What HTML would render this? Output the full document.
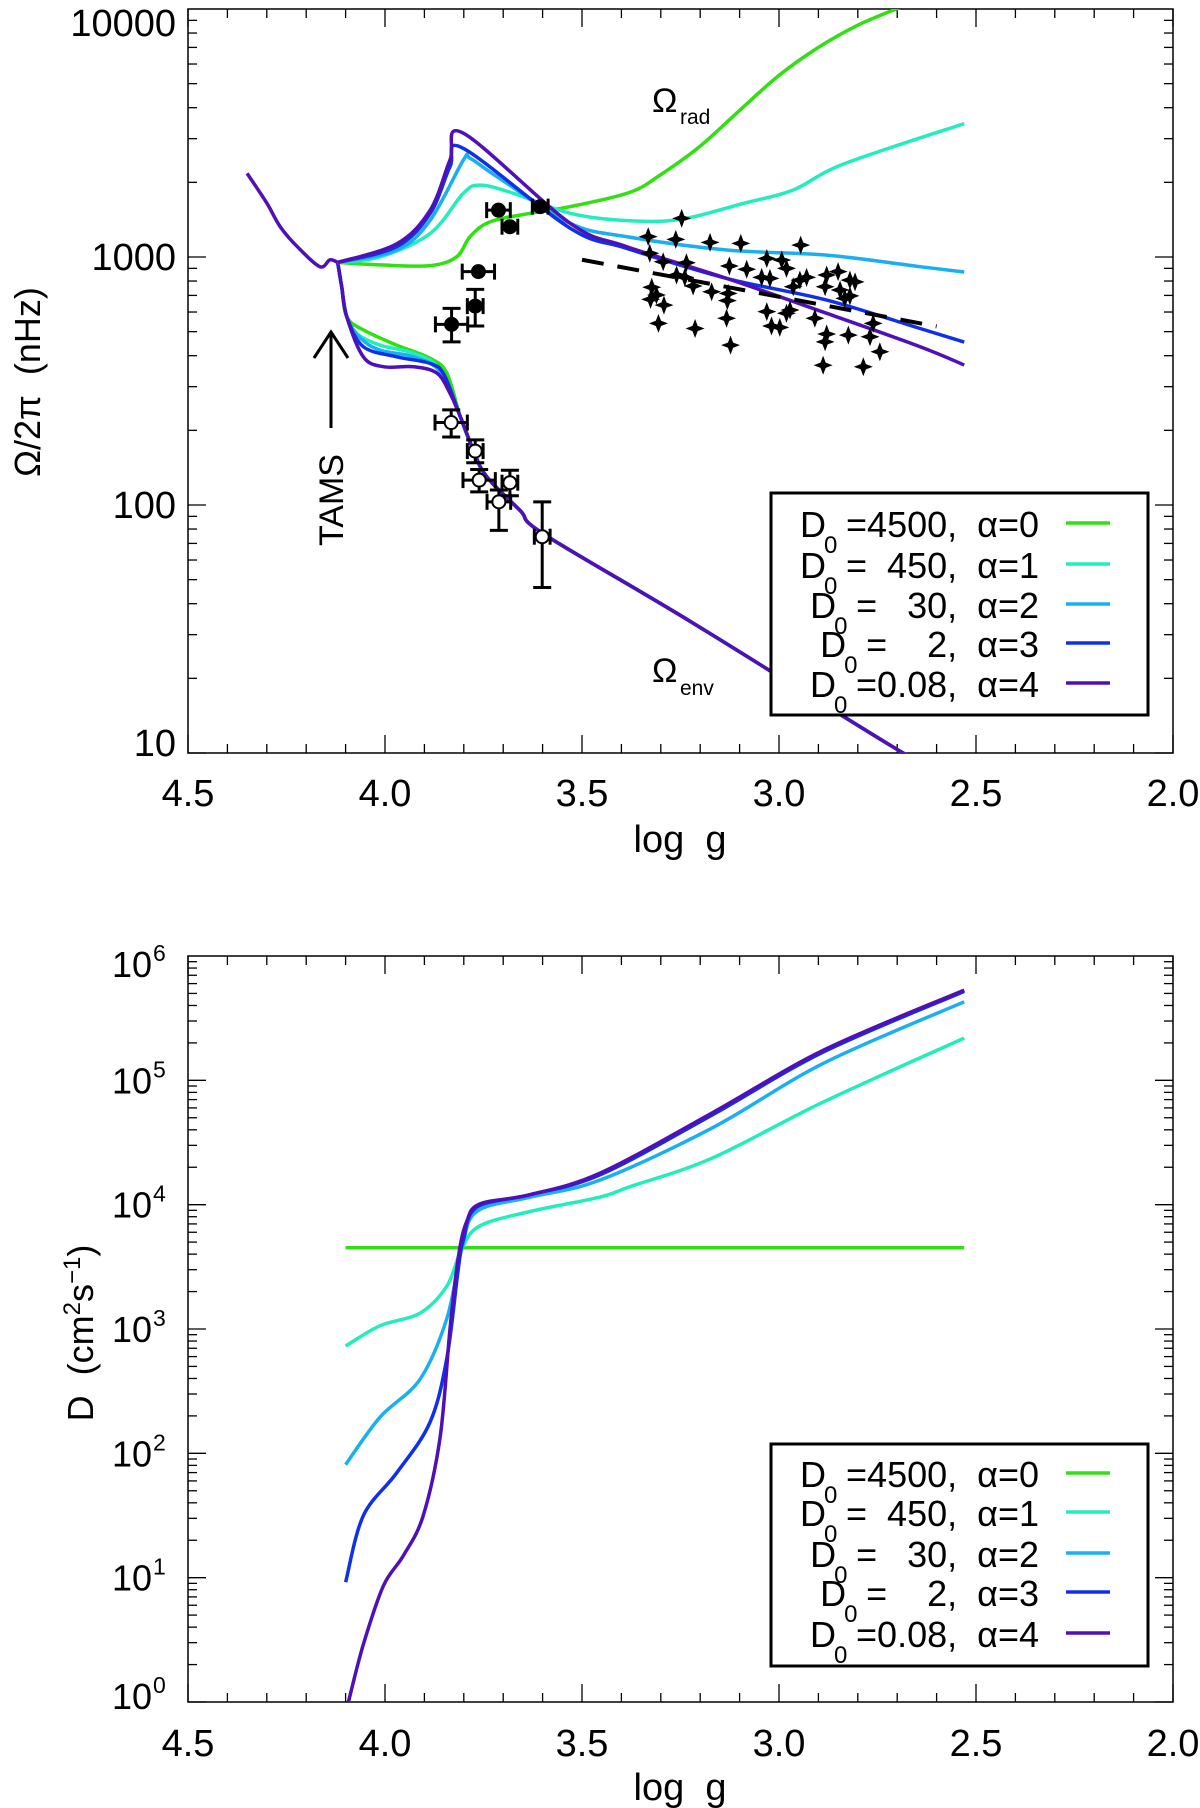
<!DOCTYPE html>
<html><head><meta charset="utf-8"><style>
html,body{margin:0;padding:0;background:#fff}
svg{display:block}
text{font-family:"Liberation Sans",sans-serif;fill:#000}
</style></head><body>
<svg id="fig" width="1200" height="1808" viewBox="0 0 1200 1808">
<defs>
<clipPath id="clipTop"><rect x="188" y="9" width="985" height="744"/></clipPath>
<clipPath id="clipBot"><rect x="188" y="956" width="985" height="746"/></clipPath>
</defs>
<g id="topPanel"></g>
<g id="botPanel"></g>
</svg>
<script>
const colors = ['#30e010','#22eebb','#1ab0f0','#1030e8','#5010b8'];
const seriesNames = ['alpha0','alpha1','alpha2','alpha3','alpha4'];
const legendD0 = ['4500','  450','   30','    2','0.08'];
const legendAlpha = ['0','1','2','3','4'];

const commonG = [4.35,4.30,4.266,4.22,4.165,4.14,4.12];
const commonV = [2173,1650,1325,1090,914,973,951];

const radG0 = [4.12,4.01,3.885,3.818,3.784,3.733,3.632,3.53,3.38,3.3,3.2,3.1,3.0,2.9,2.8,2.69];
const radV0 = [951,929,923,1002,1208,1387,1500,1596,1820,2150,2800,3900,5400,7000,8600,10200];
const radG1 = [4.12,4.012,3.885,3.801,3.758,3.674,3.53,3.38,3.247,3.091,2.964,2.836,2.53];
const radV1 = [951,1002,1245,1807,1950,1807,1500,1400,1420,1644,1862,2372,3450];
const radG2 = [4.12,3.97,3.885,3.801,3.784,3.716,3.53,3.387,3.133,2.879,2.642,2.53];
const radV2 = [951,1067,1409,2460,2500,2110,1368,1208,1067,1018,914,870];
const radG3 = [4.12,3.97,3.885,3.835,3.801,3.53,3.387,3.133,2.879,2.642,2.53];
const radV3 = [951,1101,1500,2312,2741,1306,1084,820,670,515,454];
const radG4 = [4.12,3.97,3.885,3.835,3.801,3.53,3.387,3.133,2.879,2.642,2.53];
const radV4 = [951,1130,1549,2460,3155,1368,1101,820,593,435,367];

const envHeadG = [4.12,4.11,4.097];
const envHeadV = [951,759,574];
const envG0 = [4.055,3.97,3.885,3.843]; const envV0 = [508,441,390,340];
const envG1 = [4.072,4.012,3.928,3.86]; const envV1 = [492,441,409,352];
const envG2 = [4.062,4.012,3.928,3.86]; const envV2 = [470,421,396,345];
const envG3 = [4.055,3.97,3.885,3.85];  const envV3 = [435,396,372,335];
const envG4 = [4.055,4.004,3.928,3.868,3.835]; const envV4 = [396,361,361,340,282];
const envTailG = [3.809,3.775,3.742,3.657,3.595,3.226,2.685,2.6];
const envTailV = [227,165,130,95,76,34,10,8.8];

const coreG = [3.712,3.683,3.763,3.771,3.831,3.606];
const coreV = [1545,1325,873,634,535,1596];
const coreGerr = [0.03,0.02,0.041,0.02,0.041,0.02];
const coreVlo = [1545,1325,873,527,455,1596];
const coreVhi = [1545,1325,873,740,621,1596];
const envPtG = [3.832,3.771,3.761,3.683,3.711,3.601];
const envPtV = [215,165,126,123,103,74.5];
const envPtGerr = [0.041,0.02,0.041,0.02,0.03,0.02];
const envPtVlo = [188,148,113,109,79,46.5];
const envPtVhi = [242,183,139,138,115,103];

const starG = [3.247,3.332,3.262,3.175,3.097,2.945,3.328,3.294,3.235,3.031,2.993,2.981,3.126,3.082,3.260,3.239,3.218,3.171,3.323,3.311,3.326,3.292,3.129,3.131,3.044,3.023,2.947,2.930,2.879,2.850,2.883,2.845,2.820,2.807,2.833,2.820,2.964,3.133,3.031,2.981,2.972,2.909,3.306,3.213,3.019,2.998,2.879,2.883,2.824,2.769,2.761,3.123,2.744,2.888,2.786];
const starV = [1432,1208,1178,1145,1135,1117,1035,957,948,986,972,900,920,892,846,828,764,724,755,703,675,640,713,667,828,820,807,828,846,873,759,736,807,794,681,697,759,566,602,593,611,566,540,515,527,520,489,455,484,477,540,441,415,366,361];
const dashG = [3.50,2.60];
const dashV = [975,525];

const dG0 = [4.10,2.53]; const dV0 = [4500,4500];
const dG1 = [4.10,4.013,3.911,3.843,3.805,3.759,3.632,3.454,3.378,3.17,2.886,2.53];
const dV1 = [728,1062,1343,2213,4426,6761,8810,11508,13964,23660,67300,218800];
const dG2 = [4.10,4.013,3.911,3.843,3.805,3.767,3.632,3.454,3.17,2.886,2.53];
const dV2 = [81,195,395,1216,4426,8810,11480,15780,41300,137700,428500];
const dG3 = [4.10,4.055,3.97,3.886,3.843,3.814,3.801,3.767,3.632,3.454,3.17,2.886,2.53];
const dV3 = [9.2,31.5,69.8,177,585,3048,5224,9550,12020,17380,52480,169800,518800];
const dG4 = [4.093,4.055,4.004,3.953,3.903,3.86,3.835,3.814,3.793,3.759,3.632,3.454,3.17,2.886,2.53];
const dV4 = [1.0,2.9,8.6,15.1,31.5,136,1000,3758,7278,10140,12020,17950,54580,175400,532100];

const xTicks = [4.5,4.0,3.5,3.0,2.5,2.0];
const xTickLabels = ['4.5','4.0','3.5','3.0','2.5','2.0'];
const topYTicks = [10000,1000,100,10];
const topYLabels = ['10000','1000','100','10'];
const botYExp = [6,5,4,3,2,1,0];

const NS='http://www.w3.org/2000/svg';
const X0=188, X1=1173;
function xs(g){return X0+(4.5-g)/2.5*(X1-X0);}
const TY0=9, TY1=753;
function ysTop(v){return TY0+(4-Math.log10(v))/3*(TY1-TY0);}
const BY0=956, BY1=1702;
function ysBot(v){return BY0+(6-Math.log10(v))/6*(BY1-BY0);}
function el(tag,attrs,parent){const e=document.createElementNS(NS,tag);for(const k in attrs)e.setAttribute(k,attrs[k]);parent.appendChild(e);return e;}
function smoothPath(p){
  let d='M'+p[0][0].toFixed(1)+','+p[0][1].toFixed(1);
  for(let i=0;i<p.length-1;i++){
    const p0=p[Math.max(0,i-1)],p1=p[i],p2=p[i+1],p3=p[Math.min(p.length-1,i+2)];
    const c1=[p1[0]+(p2[0]-p0[0])/6,p1[1]+(p2[1]-p0[1])/6];
    const c2=[p2[0]-(p3[0]-p1[0])/6,p2[1]-(p3[1]-p1[1])/6];
    d+=' C'+c1[0].toFixed(1)+','+c1[1].toFixed(1)+' '+c2[0].toFixed(1)+','+c2[1].toFixed(1)+' '+p2[0].toFixed(1)+','+p2[1].toFixed(1);
  }
  return d;
}
function toPts(gs,vs,ys){return gs.map((g,i)=>[xs(g),ys(vs[i])]);}

function drawAxes(parent,y0,y1,ys,minExp,maxExp){
  el('rect',{x:X0,y:y0,width:X1-X0,height:y1-y0,fill:'none',stroke:'#000','stroke-width':1.5},parent);
  for(let k=0;k<=25;k++){
    const g=4.5-k*0.1; const x=xs(g); const major=(k%5===0); const L=major?18:9;
    const t1=el('line',{x1:x,y1:y1,x2:x,y2:y1-L,stroke:'#000','stroke-width':1.3},parent);
    
    
    el('line',{x1:x,y1:y0,x2:x,y2:y0+L,stroke:'#000','stroke-width':1.3},parent);
  }
  for(let e=minExp;e<maxExp;e++){
    for(let m=1;m<=9;m++){
      const v=m*Math.pow(10,e); const y=ys(v); const L=(m===1)?18:9;
      el('line',{x1:X0,y1:y,x2:X0+L,y2:y,stroke:'#000','stroke-width':1.3},parent);
      el('line',{x1:X1,y1:y,x2:X1-L,y2:y,stroke:'#000','stroke-width':1.3},parent);
    }
  }
}
function xLabels(parent,yl,ytitle){
  xTicks.forEach((g,i)=>{
    const t=el('text',{x:xs(g),y:yl,'text-anchor':'middle','font-size':38},parent);
    t.textContent=xTickLabels[i];
    
    
  });
  const t=el('text',{x:680,y:ytitle,'text-anchor':'middle','font-size':38},parent);
  t.setAttribute('style','white-space:pre');
  t.textContent='log  g';
  
  
}
function legend(parent,bx,by,lineYs){
  const box=el('rect',{x:bx,y:by,width:377,height:(lineYs[4]-lineYs[0])+62,fill:'#fff',stroke:'#000','stroke-width':3},parent);
  
  
  for(let i=0;i<5;i++){
    const y=lineYs[i];
    const t=el('text',{x:1039,y:y+14,'text-anchor':'end','font-size':36},parent);
    t.setAttribute('style','white-space:pre');
    t.textContent='D  ='+legendD0[i]+',  \u03b1='+legendAlpha[i];
    
    
    let bx0=1039-255;
    try{const bb=t.getBBox(); if(bb && bb.width>0) bx0=bb.x;}catch(e){}
    const s=el('text',{x:bx0+24,y:y+30,'font-size':24},parent);
    s.textContent='0';
    const ln=el('line',{x1:1066,y1:y,x2:1110,y2:y,stroke:colors[i],'stroke-width':3.5},parent);
    
    
  }
}

const topPanel=document.getElementById('topPanel');
drawAxes(topPanel,TY0,TY1,ysTop,1,4);
topYTicks.forEach((v,i)=>{
  let y=ysTop(v)+13; if(i===0) y+=14; if(i===topYTicks.length-1) y-=10;
  const t=el('text',{x:176,y:y,'text-anchor':'end','font-size':38},topPanel);
  t.textContent=topYLabels[i];
  
  
});
xLabels(topPanel,806,852);
{const t=el('text',{x:0,y:0,'text-anchor':'middle','font-size':36,transform:'translate(40,382) rotate(-90)'},topPanel);
 t.setAttribute('style','white-space:pre');
 t.textContent='\u03a9/2\u03c0  (nHz)';
 
 }
const tc=el('g',{'clip-path':'url(#clipTop)'},topPanel);
const radG=[radG0,radG1,radG2,radG3,radG4], radV=[radV0,radV1,radV2,radV3,radV4];
const envG=[envG0,envG1,envG2,envG3,envG4], envV=[envV0,envV1,envV2,envV3,envV4];
for(let i=0;i<5;i++){
  const p=el('path',{d:smoothPath(toPts(envHeadG.concat(envG[i],envTailG),envHeadV.concat(envV[i],envTailV),ysTop)),fill:'none',stroke:colors[i],'stroke-width':3.5},tc);
  
  
}
for(let i=0;i<5;i++){
  const p=el('path',{d:smoothPath(toPts(radG[i],radV[i],ysTop)),fill:'none',stroke:colors[i],'stroke-width':3.5},tc);
  
  
}
{const p=el('path',{d:smoothPath(toPts(commonG,commonV,ysTop)),fill:'none',stroke:colors[4],'stroke-width':3.5},tc);
 
 }
{const l=el('line',{x1:xs(dashG[0]),y1:ysTop(dashV[0]),x2:xs(dashG[1]),y2:ysTop(dashV[1]),stroke:'#000','stroke-width':4,'stroke-dasharray':'22,14'},tc);
 
 }
starG.forEach((g,i)=>{
  const x=xs(g), y=ysTop(starV[i]), r=9.5, q=2.6;
  const d=`M${x},${y-r} L${x+q},${y-q} L${x+r},${y} L${x+q},${y+q} L${x},${y+r} L${x-q},${y+q} L${x-r},${y} L${x-q},${y-q} Z`;
  const s=el('path',{d:d,fill:'#000'},tc);
  
  
});
function errPoints(G,V,Gerr,Vlo,Vhi,filled,name){
  G.forEach((g,i)=>{
    const x=xs(g), y=ysTop(V[i]);
    const grp=el('g',{},tc);
    
    
    const xa=xs(g+Gerr[i]), xb=xs(g-Gerr[i]);
    el('line',{x1:xa,y1:y,x2:xb,y2:y,stroke:'#000','stroke-width':3},grp);
    el('line',{x1:xa,y1:y-8,x2:xa,y2:y+8,stroke:'#000','stroke-width':3},grp);
    el('line',{x1:xb,y1:y-8,x2:xb,y2:y+8,stroke:'#000','stroke-width':3},grp);
    const ya=ysTop(Vlo[i]), yb=ysTop(Vhi[i]);
    if(ya-yb>4){
      el('line',{x1:x,y1:ya,x2:x,y2:yb,stroke:'#000','stroke-width':3},grp);
      el('line',{x1:x-9,y1:ya,x2:x+9,y2:ya,stroke:'#000','stroke-width':3},grp);
      el('line',{x1:x-9,y1:yb,x2:x+9,y2:yb,stroke:'#000','stroke-width':3},grp);
    }
    el('circle',{cx:x,cy:y,r:6.5,fill:filled?'#000':'#fff',stroke:'#000','stroke-width':2},grp);
  });
}
errPoints(coreG,coreV,coreGerr,coreVlo,coreVhi,true,'core-rotation-point');
errPoints(envPtG,envPtV,envPtGerr,envPtVlo,envPtVhi,false,'envelope-rotation-point');
{const a=el('g',{},topPanel);  
 el('line',{x1:331,y1:428,x2:331,y2:334,stroke:'#000','stroke-width':3},a);
 el('polyline',{points:'314,358 331,332 348,358',fill:'none',stroke:'#000','stroke-width':3},a);}
{const t=el('text',{x:0,y:0,'text-anchor':'middle','font-size':34,transform:'translate(343,500) rotate(-90)'},topPanel);
 t.textContent='TAMS';  }
{const t=el('text',{x:652,y:112,'font-size':34},topPanel);
 t.textContent='\u03a9';  
 const s=el('text',{x:680,y:124,'font-size':21},topPanel); s.textContent='rad';}
{const t=el('text',{x:652,y:682,'font-size':34},topPanel);
 t.textContent='\u03a9';  
 const s=el('text',{x:680,y:695,'font-size':21},topPanel); s.textContent='env';}
legend(topPanel,771,493,[523,564,604,643,683]);

const botPanel=document.getElementById('botPanel');
drawAxes(botPanel,BY0,BY1,ysBot,0,6);
botYExp.forEach(e=>{
  let y=ysBot(Math.pow(10,e))+13; if(e===6) y+=8; if(e===0) y-=6;
  const t=el('text',{x:152,y:y,'text-anchor':'end','font-size':36},botPanel);
  t.textContent='10';
  
  
  const s=el('text',{x:153,y:y-16,'font-size':23},botPanel); s.textContent=String(e);
});
xLabels(botPanel,1756,1800);
{const t=el('text',{x:0,y:0,'text-anchor':'middle','font-size':36,transform:'translate(93,1333) rotate(-90)'},botPanel);
  
 const parts=[['D  (cm',0,36],['2',-13,24],['s',13,36],['\u22121',-13,24],[')',13,36]];
 parts.forEach(pp=>{const ts=el('tspan',{dy:pp[1],'font-size':pp[2]},t); ts.setAttribute('style','white-space:pre'); ts.textContent=pp[0];});}
const bc=el('g',{'clip-path':'url(#clipBot)'},botPanel);
const dG=[dG0,dG1,dG2,dG3,dG4], dV=[dV0,dV1,dV2,dV3,dV4];
for(let i=0;i<5;i++){
  const p=el('path',{d:smoothPath(toPts(dG[i],dV[i],ysBot)),fill:'none',stroke:colors[i],'stroke-width':3.5},bc);
  
  
}
legend(botPanel,771,1444,[1473,1512,1553,1592,1633]);
</script>
</body></html>
